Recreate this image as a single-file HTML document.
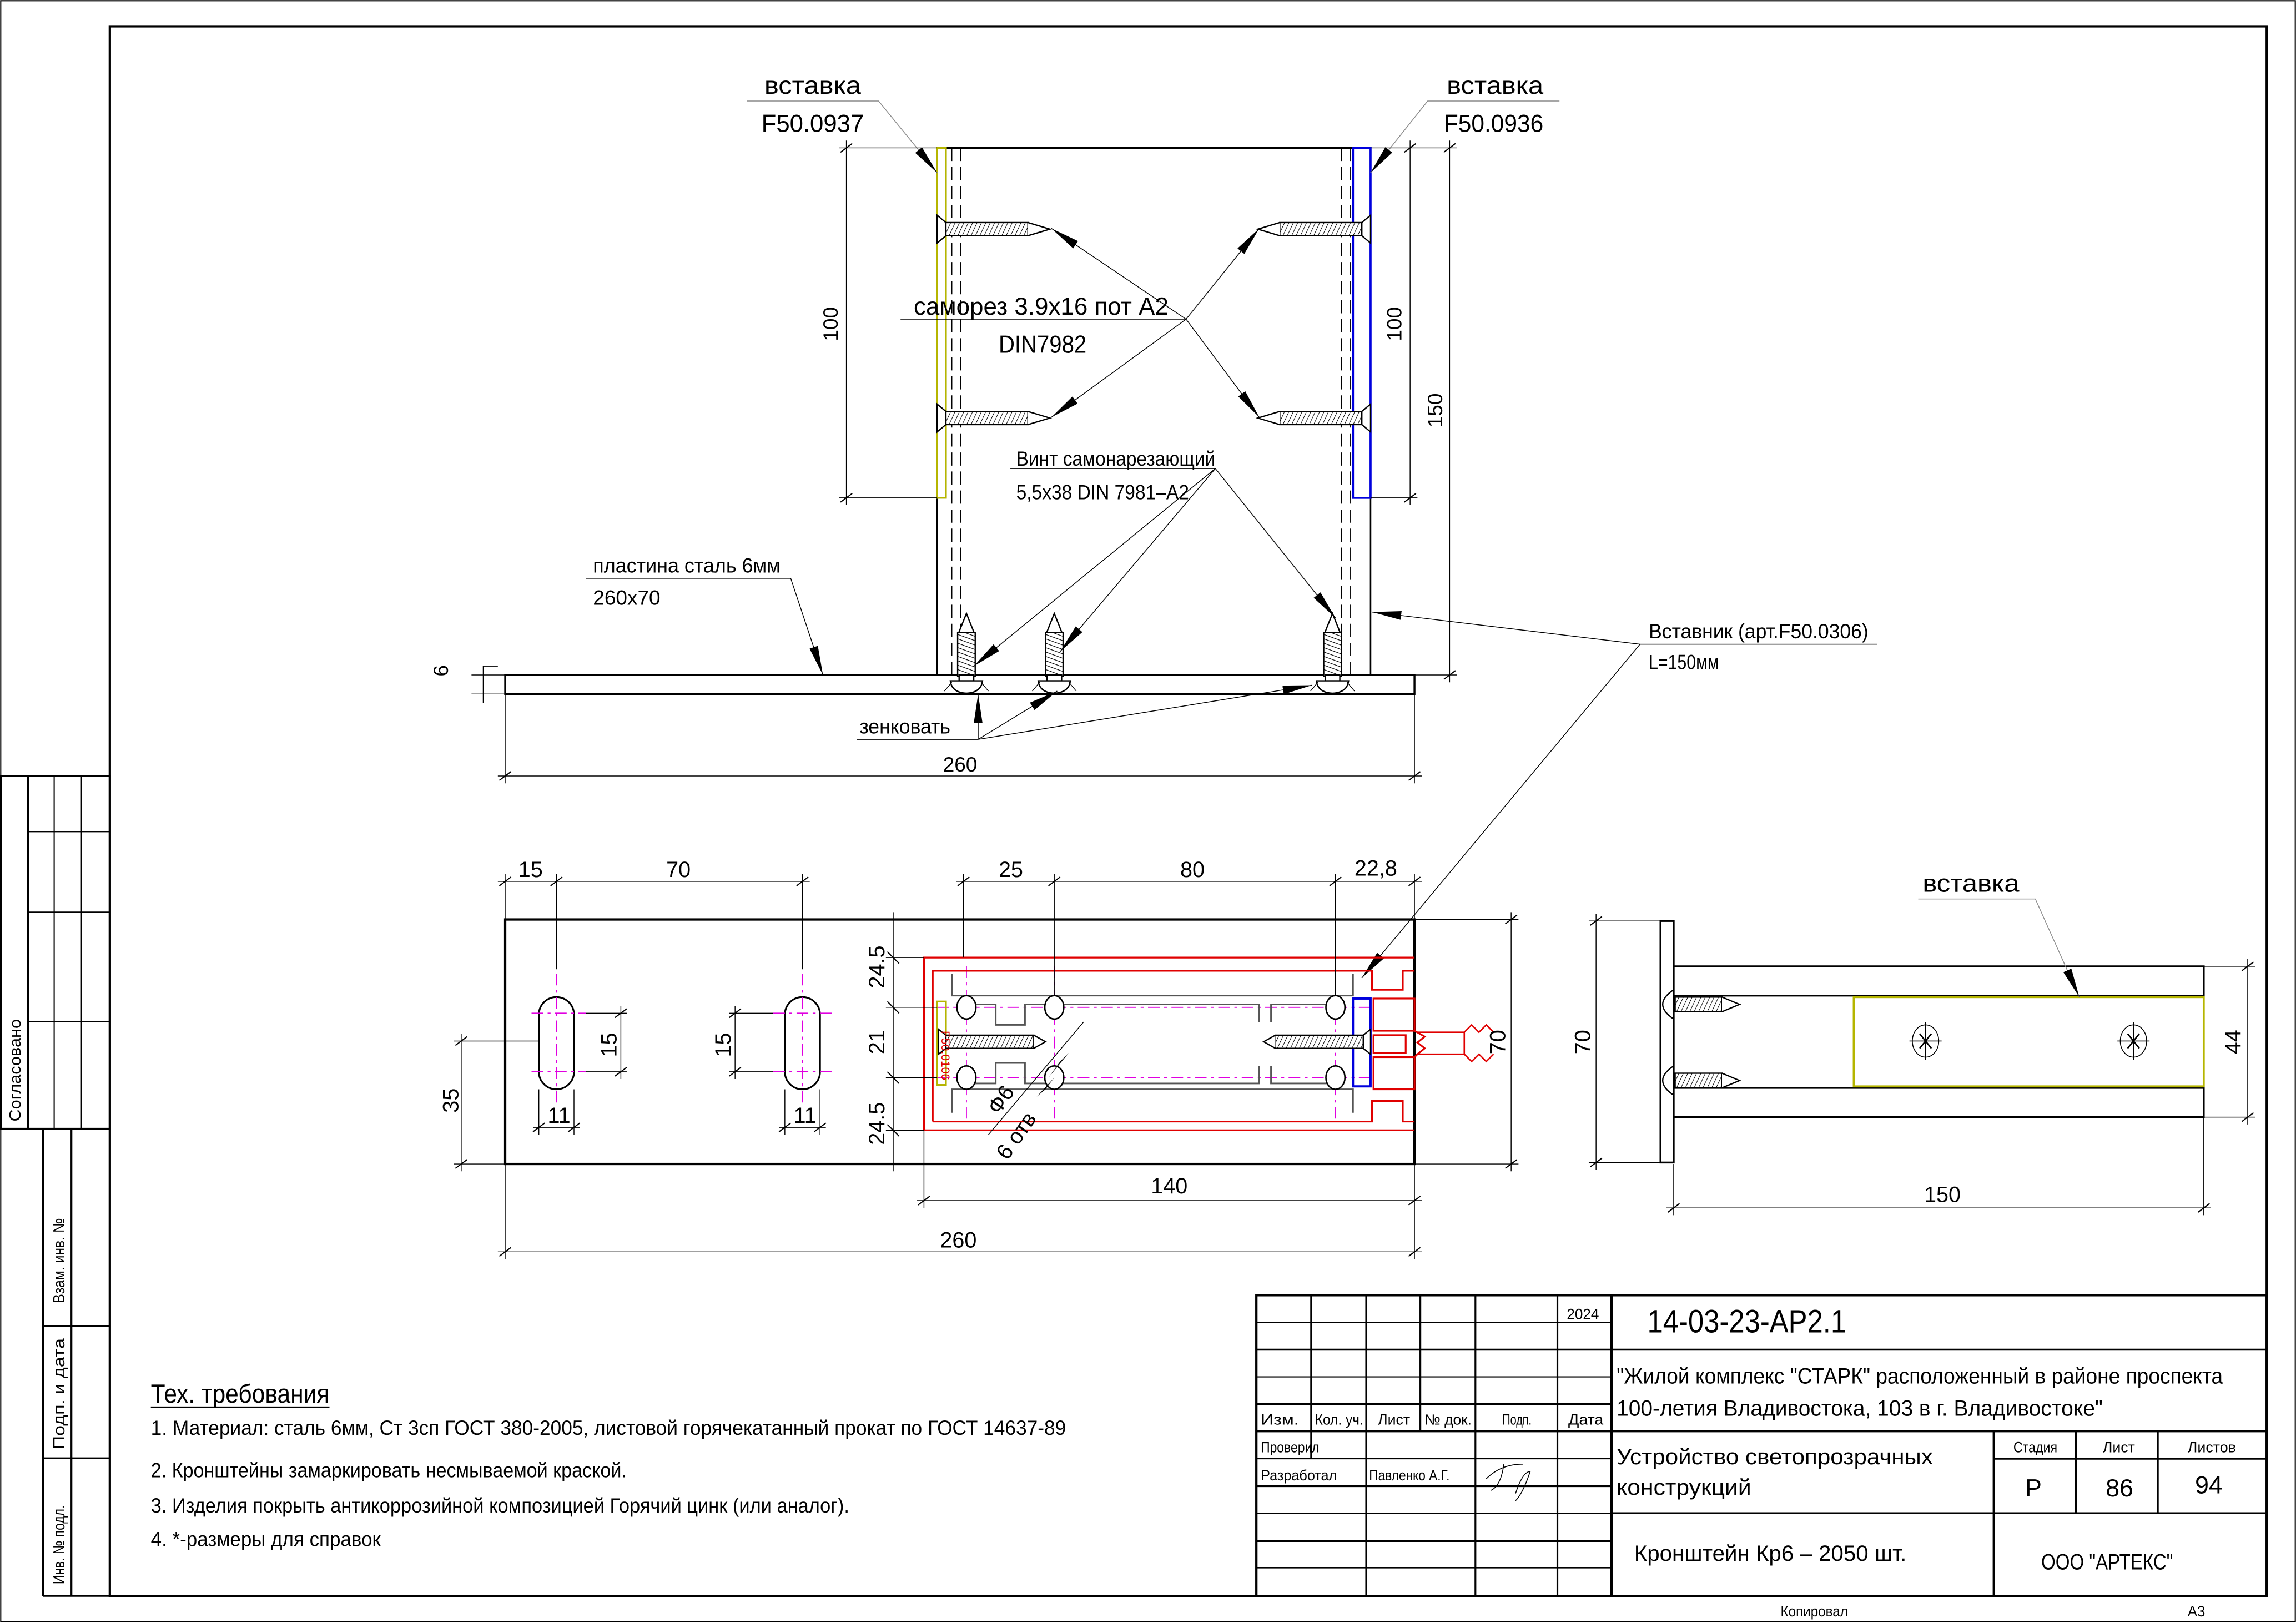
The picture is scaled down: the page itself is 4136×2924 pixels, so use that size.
<!DOCTYPE html>
<html><head><meta charset="utf-8"><style>
html,body{margin:0;padding:0;background:#fff}
svg{display:block}
text{font-family:"Liberation Sans",sans-serif;fill:#000}
.n{font-stretch:condensed}
</style></head><body>
<svg width="4136" height="2924" viewBox="0 0 1568 1108.5" preserveAspectRatio="none" xmlns="http://www.w3.org/2000/svg">
<defs>
<marker id="ar" viewBox="0 0 20 6" refX="20" refY="3" markerWidth="20" markerHeight="6" markerUnits="userSpaceOnUse" orient="auto"><path d="M0,0 L20,3 L0,6 Z" fill="#000"/></marker>
<marker id="tk" viewBox="-5 -5 10 10" refX="0" refY="0" markerWidth="10" markerHeight="10" markerUnits="userSpaceOnUse" orient="auto"><path d="M-3,4 L3,-4" stroke="#000" stroke-width="0.8"/></marker>
<pattern id="h" width="3" height="10" patternUnits="userSpaceOnUse" patternTransform="skewX(-25)"><rect width="3" height="10" fill="#fff"/><line x1="0" y1="0" x2="0" y2="10" stroke="#000" stroke-width="0.8"/></pattern>
<pattern id="hv" width="14" height="3" patternUnits="userSpaceOnUse" patternTransform="skewY(20)"><rect width="14" height="3" fill="#fff"/><line x1="0" y1="0" x2="14" y2="0" stroke="#000" stroke-width="0.9"/></pattern>
</defs>
<rect width="1568" height="1108.5" fill="#fff"/>
<!-- sheet frame -->
<rect x="0.5" y="0.5" width="1567" height="1107" fill="none" stroke="#000" stroke-width="0.8"/>
<rect x="75" y="18" width="1473" height="1072" fill="none" stroke="#000" stroke-width="1.6"/>
<!-- left strip -->
<g stroke="#000" fill="none">
<rect x="0.5" y="530" width="74.5" height="241" stroke-width="1.4"/>
<line x1="19" y1="530" x2="19" y2="771" stroke-width="1.6"/>
<line x1="37" y1="530" x2="37" y2="771" stroke-width="0.8"/>
<line x1="55.6" y1="530" x2="55.6" y2="771" stroke-width="0.8"/>
<line x1="19" y1="568" x2="75" y2="568" stroke-width="0.8"/>
<line x1="19" y1="623" x2="75" y2="623" stroke-width="0.8"/>
<line x1="19" y1="697.7" x2="75" y2="697.7" stroke-width="0.8"/>
<line x1="29.3" y1="771" x2="29.3" y2="1090" stroke-width="1.6"/>
<line x1="48.6" y1="771" x2="48.6" y2="1090" stroke-width="1.6"/>
<line x1="29.3" y1="905.6" x2="75" y2="905.6" stroke-width="1.2"/>
<line x1="29.3" y1="996" x2="75" y2="996" stroke-width="1.2"/>
<line x1="29.3" y1="1090" x2="75" y2="1090" stroke-width="1.2"/>
</g>
<g font-size="11">
<text transform="translate(14,766) rotate(-90)" textLength="70" lengthAdjust="spacingAndGlyphs">Согласовано</text>
<text transform="translate(44,890) rotate(-90)" textLength="58" lengthAdjust="spacingAndGlyphs">Взам. инв. №</text>
<text transform="translate(44,990) rotate(-90)" textLength="76" lengthAdjust="spacingAndGlyphs">Подп. и дата</text>
<text transform="translate(44,1082) rotate(-90)" textLength="54" lengthAdjust="spacingAndGlyphs">Инв. № подл.</text>
</g>

<!-- ===== TOP VIEW ===== -->
<g stroke="#000" fill="none">
<line x1="640" y1="101" x2="936" y2="101" stroke-width="1.2"/>
<line x1="640" y1="101" x2="640" y2="461" stroke-width="1"/>
<line x1="936" y1="101" x2="936" y2="461" stroke-width="1"/>
<g stroke-dasharray="9,4" stroke-width="0.7">
<line x1="650" y1="101" x2="650" y2="461"/><line x1="656" y1="101" x2="656" y2="461"/>
<line x1="916" y1="101" x2="916" y2="461"/><line x1="922" y1="101" x2="922" y2="461"/>
</g>
<rect x="640" y="101" width="6" height="239" stroke="#b5b500" stroke-width="1.2"/>
<rect x="924" y="101" width="12" height="239" stroke="#0000dd" stroke-width="1.4"/>
<rect x="345" y="461" width="621" height="13" stroke-width="1.3"/>
</g>
<!-- horizontal screws -->
<g stroke="#000" stroke-width="0.9">
<g id="sl"><path d="M640,147 L646,152 L646,161 L640,166 Z" fill="#fff"/><rect x="646" y="152" width="56" height="9" fill="url(#h)"/><path d="M702,152 L717,156.5 L702,161" fill="#fff"/></g>
<use href="#sl" transform="translate(0,129)"/>
<g id="sr"><path d="M936,147 L930,152 L930,161 L936,166 Z" fill="#fff"/><rect x="874" y="152" width="56" height="9" fill="url(#h)"/><path d="M874,152 L859,156.5 L874,161" fill="#fff"/></g>
<use href="#sr" transform="translate(0,129)"/>
</g>
<!-- vertical screws -->
<g stroke="#000" stroke-width="0.9">
<g id="sv"><path d="M654,434 L660,419 L666,434 Z" fill="#fff"/><rect x="654" y="432" width="12" height="30" fill="url(#hv)"/><rect x="655" y="461" width="10" height="4" fill="#fff"/><path d="M649,465 L671,465 Q670,473 660,473.5 Q650,473 649,465 Z" fill="#fff"/><line x1="650" y1="466" x2="645" y2="472" stroke-width="0.5"/><line x1="670" y1="466" x2="675" y2="472" stroke-width="0.5"/></g>
<use href="#sv" transform="translate(60,0)"/>
<use href="#sv" transform="translate(250,0)"/>
</g>
<!-- leaders top -->
<g stroke="#000" stroke-width="0.55" fill="none">
<polyline points="510,69 600,69 640,118" stroke="#888" marker-end="url(#ar)"/>
<polyline points="1065,69 975,69 936,118" stroke="#888" marker-end="url(#ar)"/>
<line x1="615" y1="218" x2="810" y2="218"/>
<line x1="810" y1="218" x2="718" y2="156" marker-end="url(#ar)"/>
<line x1="810" y1="218" x2="718" y2="285" marker-end="url(#ar)"/>
<line x1="810" y1="218" x2="860" y2="156" marker-end="url(#ar)"/>
<line x1="810" y1="218" x2="860" y2="285" marker-end="url(#ar)"/>
<line x1="690" y1="320" x2="830" y2="320"/>
<line x1="830" y1="320" x2="665" y2="455" marker-end="url(#ar)"/>
<line x1="830" y1="320" x2="724" y2="445" marker-end="url(#ar)"/>
<line x1="830" y1="320" x2="912" y2="422" marker-end="url(#ar)"/>
<polyline points="400,395 540,395 562,461" marker-end="url(#ar)"/>
<line x1="1120" y1="440" x2="1282" y2="440"/>
<line x1="1120" y1="440" x2="937" y2="418" marker-end="url(#ar)"/>
<line x1="1120" y1="440" x2="930" y2="668" marker-end="url(#ar)"/>
<line x1="585" y1="505" x2="668" y2="505"/>
<line x1="668" y1="505" x2="668" y2="474" marker-end="url(#ar)"/>
<line x1="668" y1="505" x2="722" y2="472" marker-end="url(#ar)"/>
<line x1="668" y1="505" x2="896" y2="468" marker-end="url(#ar)"/>
</g>
<!-- dims top -->
<g stroke="#000" stroke-width="0.55" fill="none">
<line x1="640" y1="101" x2="573" y2="101"/><line x1="640" y1="340" x2="573" y2="340"/>
<line x1="578" y1="96" x2="578" y2="345"/>
<line x1="936" y1="340" x2="968" y2="340"/><line x1="936" y1="101" x2="995" y2="101"/>
<line x1="963" y1="96" x2="963" y2="345"/>
<line x1="990" y1="96" x2="990" y2="466"/>
<line x1="966" y1="461" x2="995" y2="461"/>
<line x1="345" y1="474" x2="345" y2="535"/><line x1="966" y1="474" x2="966" y2="535"/>
<line x1="340" y1="530" x2="971" y2="530"/>
<line x1="322" y1="461" x2="345" y2="461"/><line x1="322" y1="474" x2="345" y2="474"/>
<polyline points="340,455 330,455 330,480"/>
</g>
<g stroke="#000" stroke-width="0.8">
<line x1="574" y1="104" x2="582" y2="98"/><line x1="574" y1="343" x2="582" y2="337"/>
<line x1="959" y1="104" x2="967" y2="98"/><line x1="959" y1="343" x2="967" y2="337"/>
<line x1="986" y1="104" x2="994" y2="98"/><line x1="986" y1="464" x2="994" y2="458"/>
<line x1="341" y1="533" x2="349" y2="527"/><line x1="962" y1="533" x2="970" y2="527"/>
</g>
<g font-size="17" class="n">
<text x="522" y="64" textLength="66" lengthAdjust="spacingAndGlyphs">вставка</text>
<text x="520" y="90" textLength="70" lengthAdjust="spacingAndGlyphs">F50.0937</text>
<text x="988" y="64" textLength="66" lengthAdjust="spacingAndGlyphs">вставка</text>
<text x="986" y="90" textLength="68" lengthAdjust="spacingAndGlyphs">F50.0936</text>
<text x="624" y="215" textLength="174" lengthAdjust="spacingAndGlyphs">саморез 3.9x16 пот A2</text>
<text x="682" y="241" textLength="60" lengthAdjust="spacingAndGlyphs">DIN7982</text>
</g>
<g font-size="14" class="n">
<text x="694" y="318" textLength="136" lengthAdjust="spacingAndGlyphs">Винт самонарезающий</text>
<text x="694" y="341" textLength="118" lengthAdjust="spacingAndGlyphs">5,5x38 DIN 7981–A2</text>
<text x="405" y="391" textLength="128" lengthAdjust="spacingAndGlyphs">пластина сталь 6мм</text>
<text x="405" y="413" textLength="46" lengthAdjust="spacingAndGlyphs">260x70</text>
<text x="1126" y="436" textLength="150" lengthAdjust="spacingAndGlyphs">Вставник (арт.F50.0306)</text>
<text x="1126" y="457" textLength="48" lengthAdjust="spacingAndGlyphs">L=150мм</text>
<text x="587" y="501" textLength="62" lengthAdjust="spacingAndGlyphs">зенковать</text>
<text x="644" y="527">260</text>
<text transform="translate(572,233) rotate(-90)">100</text>
<text transform="translate(957,233) rotate(-90)">100</text>
<text transform="translate(985,292) rotate(-90)">150</text>
<text transform="translate(306,462) rotate(-90)">6</text>
</g>

<!-- ===== PLAN VIEW ===== -->
<g stroke="#000" fill="none">
<rect x="345" y="628" width="621" height="167" stroke-width="1.6"/>
<rect x="368" y="681" width="24" height="63" rx="12" stroke-width="1.2"/>
<rect x="536" y="681" width="24" height="63" rx="12" stroke-width="1.2"/>
</g>
<g stroke="#e000e0" stroke-width="0.7" stroke-dasharray="8,3,2,3" fill="none">
<line x1="380" y1="665" x2="380" y2="755"/><line x1="548" y1="665" x2="548" y2="755"/>
<line x1="363" y1="692" x2="400" y2="692"/><line x1="363" y1="732" x2="400" y2="732"/>
<line x1="528" y1="692" x2="570" y2="692"/><line x1="528" y1="732" x2="570" y2="732"/>
<line x1="640" y1="688" x2="936" y2="688"/><line x1="640" y1="736" x2="936" y2="736"/>
<line x1="660" y1="660" x2="660" y2="766"/><line x1="720" y1="660" x2="720" y2="766"/><line x1="912" y1="660" x2="912" y2="766"/>
</g>
<!-- red profile -->
<g stroke="#e00000" stroke-width="1.2" fill="none">
<path d="M631,772 L631,654 L966,654"/><path d="M631,772 L966,772"/>
<path d="M637,766 L637,663 L937,663 L937,676 L958,676 L958,663 L966,663"/>
<path d="M637,766 L937,766 L937,752 L958,752 L958,766 L966,766"/>
<rect x="938" y="682" width="28" height="22"/><rect x="938" y="707" width="22" height="12"/><rect x="938" y="722" width="28" height="22"/>
<path d="M966,704 L973,708 L968,712 L973,716 L968,720 L966,722" />
</g>
<path d="M968,705 L1000,705 L1005,700 L1010,705 L1015,700 L1020,705 M968,720 L1000,720 L1005,725 L1010,720 L1015,725 L1020,720 M1000,705 L1000,720" stroke="#e00000" stroke-width="1" fill="none"/>
<g stroke="#555" stroke-width="1.1" fill="none">
<path d="M650,665 L650,680 L924,680 L924,665"/>
<path d="M650,760 L650,744 L924,744 L924,760"/>
<path d="M663,686 L680,686 L680,700 L700,700 L700,686 L860,686 L860,698 M868,698 L868,686 L908,686"/>
<path d="M663,740 L680,740 L680,726 L700,726 L700,740 L860,740 L860,728 M868,728 L868,740 L908,740"/>
</g>
<g stroke="#000" stroke-width="1" fill="#fff">
<ellipse cx="660" cy="688" rx="6.5" ry="8"/><ellipse cx="720" cy="688" rx="6.5" ry="8"/><ellipse cx="912" cy="688" rx="6.5" ry="8"/>
<ellipse cx="660" cy="736" rx="6.5" ry="8"/><ellipse cx="720" cy="736" rx="6.5" ry="8"/><ellipse cx="912" cy="736" rx="6.5" ry="8"/>
</g>
<rect x="640" y="684" width="6" height="57" stroke="#b5b500" stroke-width="1.2" fill="none"/>
<rect x="924" y="682" width="12" height="60" stroke="#0000dd" stroke-width="1.5" fill="none"/>
<g stroke="#000" stroke-width="0.9">
<path d="M641,703 L646,707 L646,716 L641,720 Z" fill="#fff"/><rect x="646" y="707" width="60" height="9" fill="url(#h)"/><path d="M706,707 L714,711.5 L706,716" fill="#fff"/>
<path d="M936,703 L931,707 L931,716 L936,720 Z" fill="#fff"/><rect x="871" y="707" width="60" height="9" fill="url(#h)"/><path d="M871,707 L863,711.5 L871,716" fill="#fff"/>
</g>
<text transform="translate(643,704) rotate(90)" font-size="8" style="fill:#e00000">F50.0106</text>
<!-- plan dims -->
<g stroke="#000" stroke-width="0.55" fill="none">
<line x1="345" y1="628" x2="345" y2="597"/><line x1="380" y1="662" x2="380" y2="597"/><line x1="548" y1="662" x2="548" y2="597"/>
<line x1="340" y1="602" x2="553" y2="602"/>
<line x1="658" y1="654" x2="658" y2="597"/><line x1="720" y1="680" x2="720" y2="597"/><line x1="912" y1="680" x2="912" y2="597"/><line x1="966" y1="628" x2="966" y2="597"/>
<line x1="653" y1="602" x2="971" y2="602"/>
<line x1="610" y1="623" x2="610" y2="800"/>
<line x1="605" y1="654" x2="631" y2="654"/><line x1="605" y1="688" x2="640" y2="688"/><line x1="605" y1="736" x2="640" y2="736"/><line x1="605" y1="772" x2="631" y2="772"/>
<line x1="966" y1="628" x2="1037" y2="628"/><line x1="966" y1="795" x2="1037" y2="795"/>
<line x1="1032" y1="623" x2="1032" y2="800"/>
<line x1="310" y1="795" x2="345" y2="795"/><line x1="310" y1="711" x2="368" y2="711"/>
<line x1="315" y1="706" x2="315" y2="800"/>
<line x1="400" y1="692" x2="428" y2="692"/><line x1="400" y1="732" x2="428" y2="732"/><line x1="424" y1="687" x2="424" y2="737"/>
<line x1="498" y1="692" x2="528" y2="692"/><line x1="498" y1="732" x2="528" y2="732"/><line x1="502" y1="687" x2="502" y2="737"/>
<line x1="368" y1="744" x2="368" y2="775"/><line x1="392" y1="744" x2="392" y2="775"/><line x1="364" y1="770" x2="396" y2="770"/>
<line x1="536" y1="744" x2="536" y2="775"/><line x1="560" y1="744" x2="560" y2="775"/><line x1="532" y1="770" x2="564" y2="770"/>
<line x1="631" y1="772" x2="631" y2="825"/><line x1="966" y1="795" x2="966" y2="860"/>
<line x1="626" y1="820" x2="971" y2="820"/>
<line x1="345" y1="795" x2="345" y2="860"/>
<line x1="340" y1="855" x2="971" y2="855"/>
<line x1="675" y1="775" x2="740" y2="698"/>
</g>
<path d="M724,725 L730,719 L716,736 Z M708,749 L714,744 L720,736 Z" fill="#000"/>
<g stroke="#000" stroke-width="0.8">
<line x1="341" y1="605" x2="349" y2="599"/><line x1="376" y1="605" x2="384" y2="599"/><line x1="544" y1="605" x2="552" y2="599"/>
<line x1="654" y1="605" x2="662" y2="599"/><line x1="716" y1="605" x2="724" y2="599"/><line x1="908" y1="605" x2="916" y2="599"/><line x1="962" y1="605" x2="970" y2="599"/>
<line x1="606" y1="650" x2="614" y2="658"/><line x1="606" y1="684" x2="614" y2="692"/><line x1="606" y1="732" x2="614" y2="740"/><line x1="606" y1="768" x2="614" y2="776"/>
<line x1="1028" y1="631" x2="1036" y2="625"/><line x1="1028" y1="798" x2="1036" y2="792"/>
<line x1="311" y1="714" x2="319" y2="708"/><line x1="311" y1="798" x2="319" y2="792"/>
<line x1="420" y1="695" x2="428" y2="689"/><line x1="420" y1="735" x2="428" y2="729"/>
<line x1="498" y1="695" x2="506" y2="689"/><line x1="498" y1="735" x2="506" y2="729"/>
<line x1="364" y1="773" x2="372" y2="767"/><line x1="388" y1="773" x2="396" y2="767"/>
<line x1="532" y1="773" x2="540" y2="767"/><line x1="556" y1="773" x2="564" y2="767"/>
<line x1="627" y1="823" x2="635" y2="817"/><line x1="962" y1="823" x2="970" y2="817"/>
<line x1="341" y1="858" x2="349" y2="852"/><line x1="962" y1="858" x2="970" y2="852"/>
</g>
<g font-size="15" class="n">
<text x="354" y="599">15</text><text x="455" y="599">70</text>
<text x="682" y="599">25</text><text x="806" y="599">80</text><text x="925" y="598">22,8</text>
<text transform="translate(604,675) rotate(-90)">24.5</text>
<text transform="translate(604,720) rotate(-90)">21</text>
<text transform="translate(604,782) rotate(-90)">24.5</text>
<text transform="translate(1028,720) rotate(-90)">70</text>
<text transform="translate(313,760) rotate(-90)">35</text>
<text transform="translate(421,722) rotate(-90)">15</text>
<text transform="translate(499,722) rotate(-90)">15</text>
<text x="374" y="767">11</text><text x="542" y="767">11</text>
<text x="786" y="815">140</text>
<text x="642" y="852">260</text>
<text transform="translate(682,762) rotate(-55)">Ф6</text>
<text transform="translate(688,793) rotate(-55)">6 отв</text>
</g>

<!-- ===== SIDE VIEW ===== -->
<g stroke="#000" fill="none" stroke-width="1.3">
<rect x="1134" y="629" width="9" height="165"/>
<path d="M1143,660 L1505,660 L1505,680 L1143,680"/>
<path d="M1143,743 L1505,743 L1505,763 L1143,763"/>
</g>
<rect x="1266" y="681" width="239" height="61" fill="none" stroke="#b5b500" stroke-width="1.4"/>
<g stroke="#000" stroke-width="0.6" fill="none">
<ellipse cx="1315" cy="711" rx="9" ry="11"/><ellipse cx="1457" cy="711" rx="9" ry="11"/>
<line x1="1304" y1="711" x2="1326" y2="711"/><line x1="1315" y1="698" x2="1315" y2="724"/>
<line x1="1446" y1="711" x2="1468" y2="711"/><line x1="1457" y1="698" x2="1457" y2="724"/>
<path d="M1311,706 L1319,716 M1319,706 L1311,716 M1453,706 L1461,716 M1461,706 L1453,716" stroke-width="1"/>
</g>
<g stroke="#000" stroke-width="0.9">
<g id="ss"><path d="M1143,676 Q1128,686 1143,696 Z" fill="#fff"/><rect x="1144" y="681" width="32" height="10" fill="url(#h)"/><path d="M1176,681 L1188,686 L1176,691" fill="#fff"/></g>
<use href="#ss" transform="translate(0,52)"/>
</g>
<g stroke="#000" stroke-width="0.55" fill="none">
<line x1="1085" y1="629" x2="1134" y2="629"/><line x1="1085" y1="794" x2="1134" y2="794"/>
<line x1="1090" y1="624" x2="1090" y2="799"/>
<line x1="1505" y1="660" x2="1540" y2="660"/><line x1="1505" y1="763" x2="1540" y2="763"/>
<line x1="1535" y1="655" x2="1535" y2="768"/>
<line x1="1143" y1="795" x2="1143" y2="830"/><line x1="1505" y1="763" x2="1505" y2="830"/>
<line x1="1138" y1="825" x2="1510" y2="825"/>
<polyline points="1310,614 1390,614 1420,681" stroke="#888" marker-end="url(#ar)"/>
</g>
<g stroke="#000" stroke-width="0.8">
<line x1="1086" y1="632" x2="1094" y2="626"/><line x1="1086" y1="797" x2="1094" y2="791"/>
<line x1="1531" y1="663" x2="1539" y2="657"/><line x1="1531" y1="766" x2="1539" y2="760"/>
<line x1="1139" y1="828" x2="1147" y2="822"/><line x1="1501" y1="828" x2="1509" y2="822"/>
</g>
<g font-size="15" class="n">
<text transform="translate(1086,720) rotate(-90)">70</text>
<text transform="translate(1530,720) rotate(-90)">44</text>
<text x="1314" y="821">150</text>
</g>
<text x="1313" y="609" font-size="17" textLength="66" lengthAdjust="spacingAndGlyphs">вставка</text>

<!-- tech requirements -->
<text x="103" y="958" font-size="18" textLength="122" lengthAdjust="spacingAndGlyphs">Тех. требования</text>
<line x1="103" y1="961" x2="225" y2="961" stroke="#000" stroke-width="0.8"/>
<g font-size="14">
<text x="103" y="980" textLength="625" lengthAdjust="spacingAndGlyphs">1. Материал: сталь 6мм, Ст 3сп ГОСТ 380-2005, листовой горячекатанный прокат по ГОСТ 14637-89</text>
<text x="103" y="1009" textLength="325" lengthAdjust="spacingAndGlyphs">2. Кронштейны замаркировать несмываемой краской.</text>
<text x="103" y="1033" textLength="477" lengthAdjust="spacingAndGlyphs">3. Изделия покрыть антикоррозийной композицией Горячий цинк (или аналог).</text>
<text x="103" y="1056" textLength="157" lengthAdjust="spacingAndGlyphs">4. *-размеры для справок</text>
</g>

<!-- title block -->
<g stroke="#000" fill="none">
<rect x="858" y="884.6" width="690" height="205.4" stroke-width="1.6"/>
<line x1="895.4" y1="884.6" x2="895.4" y2="996.3" stroke-width="1.2"/>
<line x1="933" y1="884.6" x2="933" y2="1090" stroke-width="1.2"/>
<line x1="970" y1="884.6" x2="970" y2="977.6" stroke-width="1.2"/>
<line x1="1007.6" y1="884.6" x2="1007.6" y2="1090" stroke-width="1.2"/>
<line x1="1063.6" y1="884.6" x2="1063.6" y2="1090" stroke-width="1.2"/>
<line x1="1100.6" y1="884.6" x2="1100.6" y2="1090" stroke-width="1.6"/>
<g stroke-width="0.8">
<line x1="858" y1="903.2" x2="1100.6" y2="903.2"/>
<line x1="858" y1="940.4" x2="1100.6" y2="940.4"/>
<line x1="858" y1="996.3" x2="1100.6" y2="996.3"/>
<line x1="858" y1="1033.5" x2="1100.6" y2="1033.5"/>
<line x1="858" y1="1070.8" x2="1100.6" y2="1070.8"/>
</g>
<g stroke-width="1.3">
<line x1="858" y1="921.8" x2="1548" y2="921.8"/>
<line x1="858" y1="959" x2="1100.6" y2="959"/>
<line x1="858" y1="977.6" x2="1548" y2="977.6"/>
<line x1="858" y1="1015" x2="1100.6" y2="1015"/>
<line x1="858" y1="1052.5" x2="1100.6" y2="1052.5"/>
<line x1="1100.6" y1="1033.5" x2="1548" y2="1033.5"/>
<line x1="1361.5" y1="977.6" x2="1361.5" y2="1090"/>
<line x1="1417.6" y1="977.6" x2="1417.6" y2="1033.5"/>
<line x1="1473.6" y1="977.6" x2="1473.6" y2="1033.5"/>
<line x1="1361.5" y1="996.3" x2="1548" y2="996.3"/>
</g>
</g>
<g font-size="10">
<text x="1070" y="901" textLength="22" lengthAdjust="spacingAndGlyphs">2024</text>
<text x="861" y="973" textLength="26" lengthAdjust="spacingAndGlyphs">Изм.</text>
<text x="898" y="973" textLength="33" lengthAdjust="spacingAndGlyphs">Кол. уч.</text>
<text x="941" y="973" textLength="22" lengthAdjust="spacingAndGlyphs">Лист</text>
<text x="973" y="973" textLength="32" lengthAdjust="spacingAndGlyphs">№ док.</text>
<text x="1026" y="973" textLength="20" lengthAdjust="spacingAndGlyphs">Подп.</text>
<text x="1071" y="973" textLength="24" lengthAdjust="spacingAndGlyphs">Дата</text>
<text x="861" y="992" textLength="40" lengthAdjust="spacingAndGlyphs">Проверил</text>
<text x="861" y="1011" textLength="52" lengthAdjust="spacingAndGlyphs">Разработал</text>
<text x="935" y="1011" textLength="55" lengthAdjust="spacingAndGlyphs">Павленко А.Г.</text>
<text x="1375" y="992" textLength="30" lengthAdjust="spacingAndGlyphs">Стадия</text>
<text x="1436" y="992" textLength="22" lengthAdjust="spacingAndGlyphs">Лист</text>
<text x="1494" y="992" textLength="33" lengthAdjust="spacingAndGlyphs">Листов</text>
<text x="1216" y="1104" textLength="46" lengthAdjust="spacingAndGlyphs">Копировал</text>
<text x="1494" y="1104" textLength="12" lengthAdjust="spacingAndGlyphs">А3</text>
</g>
<path d="M1015,1010 Q1025,1000 1040,1000 M1027,1000 Q1025,1015 1018,1018 M1035,1020 Q1040,1005 1045,1005 Q1040,1020 1035,1025" stroke="#000" stroke-width="0.6" fill="none"/>
<text x="1125" y="910" font-size="22" textLength="136" lengthAdjust="spacingAndGlyphs">14-03-23-АР2.1</text>
<g font-size="15">
<text x="1104" y="945" textLength="414" lengthAdjust="spacingAndGlyphs">"Жилой комплекс "СТАРК" расположенный в районе проспекта</text>
<text x="1104" y="967" textLength="332" lengthAdjust="spacingAndGlyphs">100-летия Владивостока, 103 в г. Владивостоке"</text>
<text x="1104" y="1000" textLength="216" lengthAdjust="spacingAndGlyphs">Устройство светопрозрачных</text>
<text x="1104" y="1021" textLength="92" lengthAdjust="spacingAndGlyphs">конструкций</text>
<text x="1116" y="1066" textLength="186" lengthAdjust="spacingAndGlyphs">Кронштейн Кр6 – 2050 шт.</text>
<text x="1394" y="1072" textLength="90" lengthAdjust="spacingAndGlyphs">ООО "АРТЕКС"</text>
</g>
<g font-size="17">
<text x="1383" y="1022">Р</text><text x="1438" y="1022">86</text><text x="1499" y="1020">94</text>
</g>
</svg>
</body></html>
